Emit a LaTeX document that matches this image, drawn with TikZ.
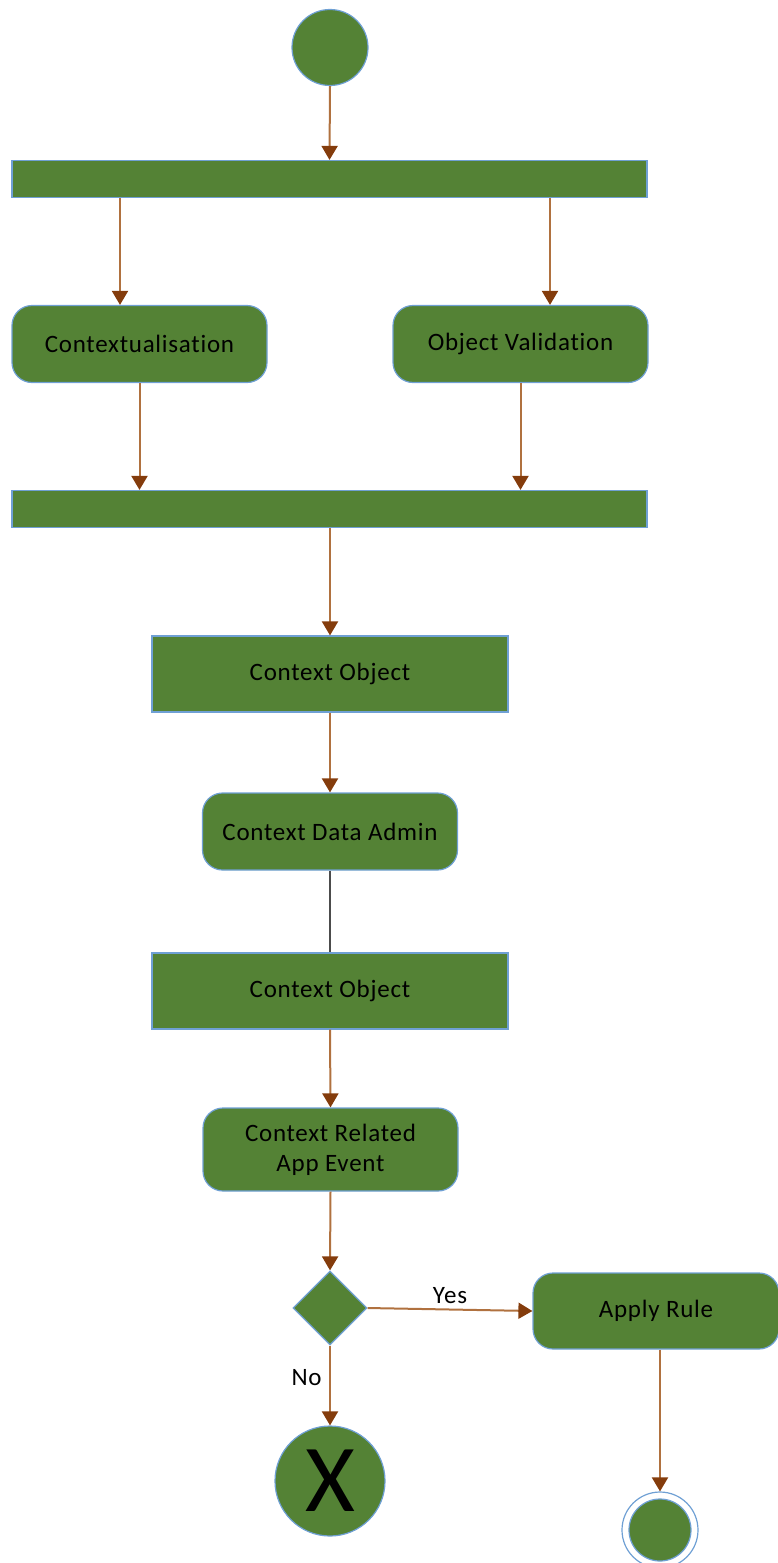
\documentclass[tikz,border=0pt]{standalone}
\usepackage{fontspec}
\setmainfont{Carlito}[Ligatures=NoCommon, LetterSpace=3]
\usetikzlibrary{arrows.meta,shapes.geometric}
\definecolor{gfill}{HTML}{548235}
\definecolor{bline}{HTML}{6FA0D4}
\definecolor{aline}{HTML}{B0713F}
\definecolor{ahead}{HTML}{843C0C}
\tikzset{
  shp/.style={fill=gfill, draw=bline, line width=1.2pt, inner sep=0pt, font=\fontsize{25}{30}\selectfont, text=black},
  bar/.style={shp, rectangle, minimum width=635pt, minimum height=37pt},
  act/.style={shp, rectangle, rounded corners=20pt, minimum width=255pt, minimum height=77pt, align=center},
  obj/.style={shp, rectangle, minimum width=356pt, minimum height=76pt},
  flow/.style={draw=aline, line width=2pt, -{Triangle[width=16pt,length=14pt,fill=ahead,color=ahead]}},
  plain/.style={draw=black!70, line width=1.5pt},
  lbl/.style={font=\fontsize{25}{30}\selectfont, text=black}
}
\begin{document}
\begin{tikzpicture}[x=1pt,y=-1pt]
\useasboundingbox (0,0) rectangle (777,1563);
\node[shp, circle, minimum size=76pt] (start) at (330,47.5) {};
\node[bar] (fork) at (329.5,179) {};
\node[act] (ctx) at (139.5,344) {Contextualisation};
\node[act] (ov) at (520.5,344) {Object Validation};
\node[bar] (join) at (329.5,509) {};
\node[obj] (co1) at (330,674) {Context Object};
\node[act] (cda) at (330,831.5) {Context Data Admin};
\node[obj] (co2) at (330,991) {Context Object};
\node[act, minimum height=83pt] (crae) at (330.5,1149.5) {Context Related\\App Event};
\node[shp, diamond, minimum width=74pt, minimum height=74pt] (dec) at (330,1308) {};
\node[act, minimum width=246pt, minimum height=76pt] (ar) at (656,1311) {Apply Rule};
\node[shp, circle, minimum size=110pt, font=\fontsize{96}{96}\selectfont] (xend) at (330,1481) {X};
\node[circle, draw=bline, line width=1.2pt, minimum size=76pt, inner sep=0pt] (fin) at (660,1530) {};
\node[shp, circle, minimum size=62pt] (finin) at (fin.center) {};

\draw[flow] (start.south) -- (fork.north);
\draw[flow] (fork.south -| ctx.north) ++(-19.5,0) coordinate (f1) -- (f1 |- ctx.north);
\draw[flow] (fork.south -| ov.north) ++(29.5,0) coordinate (f2) -- (f2 |- ov.north);
\draw[flow] (ctx.south) -- (ctx.south |- join.north);
\draw[flow] (ov.south) -- (ov.south |- join.north);
\draw[flow] (join.south -| co1.north) -- (co1.north);
\draw[flow] (co1.south) -- (cda.north);
\draw[plain] (cda.south) -- (co2.north);
\draw[flow] (co2.south) -- (crae.north);
\draw[flow] (crae.south) -- (dec.north);
\draw[flow] (dec.east) -- node[lbl, above=2pt, pos=0.5] {Yes} (ar.west);
\draw[flow] (dec.south) -- node[lbl, left=4pt, pos=0.4] {No} (xend.north);
\draw[flow] (ar.south -| fin.north) -- (fin.north);
\end{tikzpicture}
\end{document}
